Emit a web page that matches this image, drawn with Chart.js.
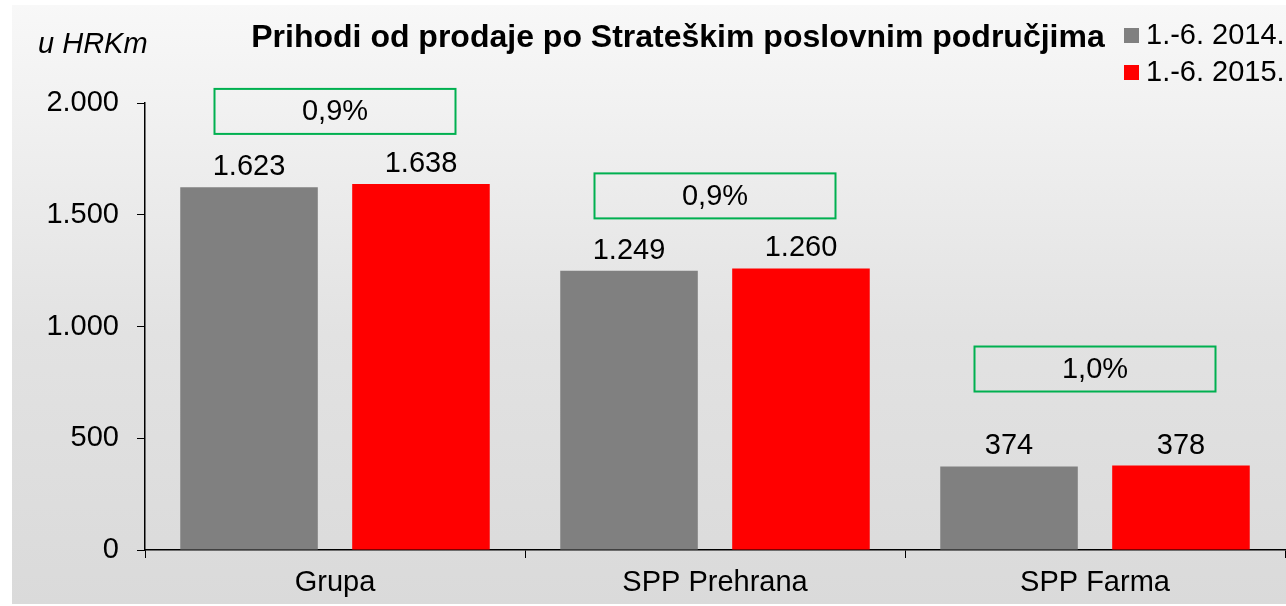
<!DOCTYPE html>
<html>
<head>
<meta charset="utf-8">
<script src="https://cdn.jsdelivr.net/npm/chart.js@4"></script>
<style>
  html, body { margin: 0; padding: 0; background: #ffffff; }
  #wrap { width: 1286px; height: 606px; }
</style>
</head>
<body>
<div id="wrap"><canvas id="salesChart" width="1286" height="606"></canvas></div>
<script>
// Chart data
const categories = ["Grupa", "SPP Prehrana", "SPP Farma"];
const seriesLabels = ["1.-6. 2014.", "1.-6. 2015."];
const values2014 = [1623, 1249, 374];
const values2015 = [1638, 1260, 378];
const growthLabels = ["0,9%", "0,9%", "1,0%"];
const yTicks = [0, 500, 1000, 1500, 2000];

const chartTitle = "Prihodi od prodaje po Strateškim poslovnim područjima";
const unitLabel = "u HRKm";

// Styles
const FONT = "'Liberation Sans', Arial, sans-serif";
const GRAY = "#808080";
const RED = "#ff0000";
const GREEN = "#00b050";
const boxGap = [50, 50, 74]; // distance from tallest bar to growth box

function formatThousands(v) {
  return String(v).replace(/\B(?=(\d{3})+(?!\d))/g, ".");
}

const decorPlugin = {
  id: "decor",
  beforeDraw(chart) {
    const ctx = chart.ctx;
    ctx.save();
    ctx.fillStyle = "#ffffff";
    ctx.fillRect(0, 0, chart.width, chart.height);
    const grad = ctx.createLinearGradient(0, 5, 0, chart.height);
    grad.addColorStop(0, "#f8f8f8");
    grad.addColorStop(0.55, "#e2e2e2");
    grad.addColorStop(1, "#dadada");
    ctx.fillStyle = grad;
    ctx.fillRect(12, 5, chart.width - 12, chart.height - 7);
    ctx.restore();
  },
  afterDatasetsDraw(chart) {
    const ctx = chart.ctx;
    ctx.save();

    // value labels above bars
    ctx.font = "29px " + FONT;
    ctx.fillStyle = "#000000";
    ctx.textAlign = "center";
    ctx.textBaseline = "alphabetic";
    chart.data.datasets.forEach((ds, di) => {
      chart.getDatasetMeta(di).data.forEach((bar, i) => {
        ctx.fillText(formatThousands(ds.data[i]), bar.x, bar.y - 12);
      });
    });

    // growth boxes
    const xScale = chart.scales.x;
    categories.forEach((cat, i) => {
      const top0 = chart.getDatasetMeta(0).data[i].y;
      const top1 = chart.getDatasetMeta(1).data[i].y;
      const cx = xScale.getPixelForValue(i);
      const bottom = Math.min(top0, top1) - boxGap[i];
      const w = 241, h = 45;
      ctx.strokeStyle = GREEN;
      ctx.lineWidth = 2;
      ctx.strokeRect(cx - w / 2, bottom - h, w, h);
      ctx.fillStyle = "#000000";
      ctx.font = "29px " + FONT;
      ctx.textAlign = "center";
      ctx.textBaseline = "middle";
      ctx.fillText(growthLabels[i], cx, bottom - h / 2 + 1);
    });

    // title
    ctx.font = "bold 32px " + FONT;
    ctx.textAlign = "center";
    ctx.textBaseline = "alphabetic";
    ctx.fillText(chartTitle, 678, 47);

    // unit
    ctx.font = "italic 29px " + FONT;
    ctx.textAlign = "left";
    ctx.fillText(unitLabel, 38, 53);

    // legend
    const colors = [GRAY, RED];
    seriesLabels.forEach((lbl, i) => {
      const y = 35 + i * 37;
      ctx.fillStyle = colors[i];
      ctx.fillRect(1124, y - 7, 15, 15);
      ctx.fillStyle = "#000000";
      ctx.font = "29px " + FONT;
      ctx.textAlign = "left";
      ctx.textBaseline = "middle";
      ctx.fillText(lbl, 1146, y + 1);
    });

    ctx.restore();
  }
};

new Chart(document.getElementById("salesChart"), {
  type: "bar",
  data: {
    labels: categories,
    datasets: [
      {
        label: seriesLabels[0],
        data: values2014,
        backgroundColor: GRAY,
        categoryPercentage: 0.905,
        barPercentage: 0.8,
      },
      {
        label: seriesLabels[1],
        data: values2015,
        backgroundColor: RED,
        categoryPercentage: 0.905,
        barPercentage: 0.8,
      },
    ],
  },
  options: {
    responsive: false,
    animation: false,
    events: [],
    layout: {
      padding: { left: 0, right: 1, top: 103, bottom: 0 },
    },
    plugins: {
      legend: { display: false },
      title: { display: false },
      tooltip: { enabled: false },
    },
    scales: {
      x: {
        afterFit(scale) {
          scale.height = 56;
        },
        grid: {
          display: true,
          drawOnChartArea: false,
          tickLength: 8,
          color: "#000000",
          offset: true,
        },
        border: { display: true, color: "#000000", width: 1.5 },
        ticks: {
          color: "#000000",
          padding: 8,
          font: { family: FONT, size: 29 },
        },
      },
      y: {
        min: 0,
        max: 2000,
        afterFit(scale) {
          scale.width = 145;
        },
        afterBuildTicks(scale) {
          scale.ticks = yTicks.map((v) => ({ value: v }));
        },
        grid: {
          display: true,
          drawOnChartArea: false,
          tickLength: 8,
          color: "#000000",
        },
        border: { display: true, color: "#000000", width: 1.5 },
        ticks: {
          color: "#000000",
          padding: 18,
          font: { family: FONT, size: 29 },
          callback: (v) => formatThousands(v),
        },
      },
    },
  },
  plugins: [decorPlugin],
});
</script>
</body>
</html>
